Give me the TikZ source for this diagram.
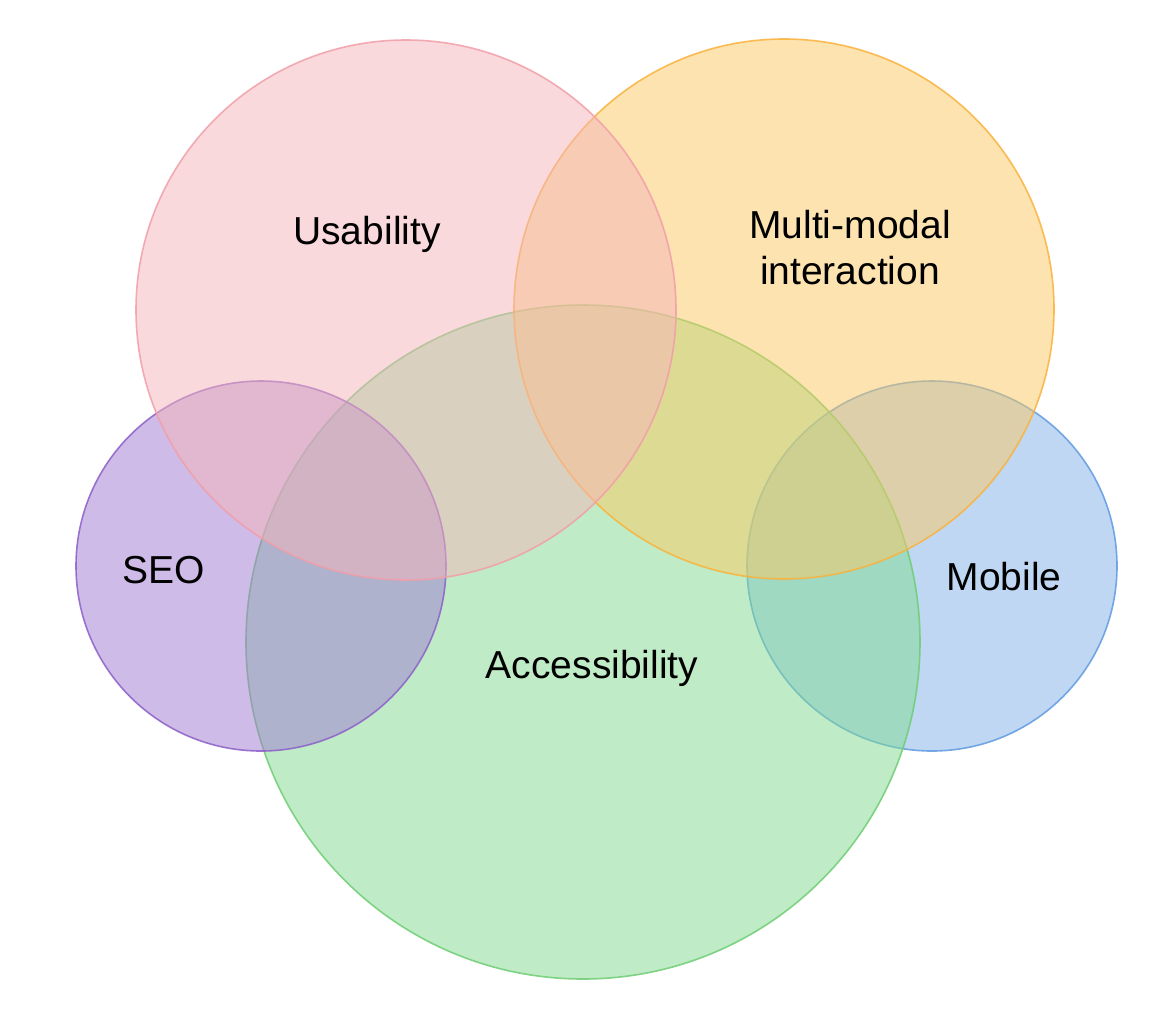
\documentclass[tikz,border=0pt]{standalone}
\usepackage{fontspec}
\setmainfont{Liberation Sans}
\definecolor{pinkF}{RGB}{245,181,187}
\definecolor{pinkD}{RGB}{242,158,168}
\definecolor{orangeF}{RGB}{251,201,97}
\definecolor{orangeD}{RGB}{250,178,60}
\definecolor{greenF}{RGB}{129,219,145}
\definecolor{greenD}{RGB}{110,205,115}
\definecolor{purpleF}{RGB}{161,121,209}
\definecolor{purpleD}{RGB}{140,95,200}
\definecolor{blueF}{RGB}{129,177,231}
\definecolor{blueD}{RGB}{95,155,225}
\begin{document}
\begin{tikzpicture}[x=1pt,y=-1pt,
  venn/.style={line width=1.6pt, fill opacity=0.5, draw opacity=0.85},
  lbl/.style={inner sep=0pt, font=\fontsize{39}{46}\selectfont, align=center, text=black}]
\useasboundingbox (0,0) rectangle (1164,1028);
\fill[white] (0,0) rectangle (1164,1028);
\draw[venn, draw=blueD, fill=blueF] (932,566) circle[radius=185];
\draw[venn, draw=greenD, fill=greenF] (583,642) circle[radius=337];
\draw[venn, draw=purpleD, fill=purpleF] (261,566) circle[radius=185];
\draw[venn, draw=orangeD, fill=orangeF] (784,309) circle[radius=270];
\draw[venn, draw=pinkD, fill=pinkF] (406,310) circle[radius=270];
\node[lbl] (usab) at (367,234) {Usability};
\node[lbl] (multi) at (850,248) {Multi-modal\\interaction};
\node[lbl] (seo) at (164,570) {SEO};
\node[lbl] (mob) at (1004,577) {Mobile};
\node[lbl] (acc) at (592,668) {Accessibility};
\end{tikzpicture}
\end{document}
